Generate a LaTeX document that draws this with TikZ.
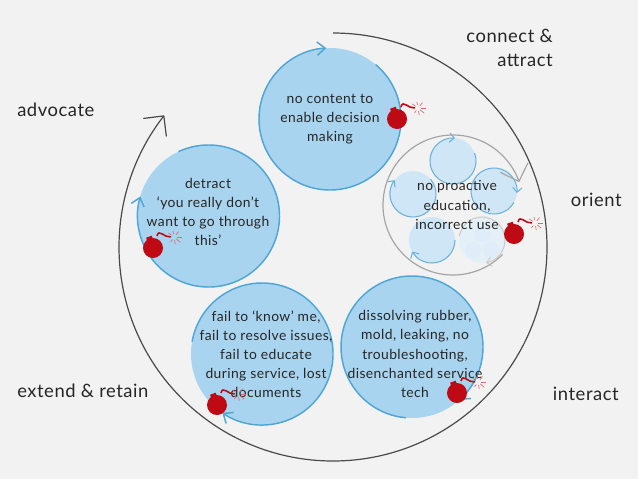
\documentclass[tikz,border=0pt]{standalone}
\usepackage{fontspec}
\usetikzlibrary{arrows.meta}
\setmainfont[LetterSpace=3]{Lato}
\definecolor{slidegrey}{HTML}{F2F2F2}
\definecolor{loopfill}{HTML}{A9D4EF}
\definecolor{loopline}{HTML}{4FA6D6}
\definecolor{subfill}{HTML}{CFE6F6}
\definecolor{ghostfill}{HTML}{E4F0F8}
\definecolor{bombred}{HTML}{BE0A14}
\definecolor{ringgrey}{HTML}{A6A6A6}
\definecolor{bigring}{HTML}{4A4A4A}
\tikzset{loop/.style={circle, fill=loopfill, inner sep=0pt, outer sep=0pt, minimum size=106.5pt}}
\tikzset{subloop/.style={circle, fill=subfill, inner sep=0pt, outer sep=0pt, minimum size=34.5pt}}
\tikzset{looptext/.style={align=center, font=\fontsize{10.4pt}{14.3pt}\selectfont, text=black!85}}
\tikzset{stage/.style={inner sep=0pt, font=\fontsize{13.8pt}{17.5pt}\selectfont, text=black!85}}
\tikzset{loopedge/.style={line width=1.1pt, color=loopline, -{Straight Barb[length=6pt,width=10pt]}}}
\tikzset{subedge/.style={line width=0.8pt, color=loopline!85!white, -{Straight Barb[length=3.5pt,width=7pt]}}}
\tikzset{ringedge/.style={line width=0.9pt, -{Straight Barb[length=11pt,width=22pt]}}}
\tikzset{bomb/.pic={
    \fill[bombred] (0,0) circle (10);
    \fill[bombred, rotate=20] (-3,-12) rectangle (3,-7);
    \draw[bombred, line width=1.2pt] (4,-12) .. controls (6,-20) and (11,-10) .. (18,-11);
    \foreach \a/\l in {0/5,40/5,80/4,125/3,170/1,215/4,260/3,310/4}
        \draw[bombred!60!white, line width=0.5pt] (21,-11) ++(\a:3) -- ++(\a:\l);
}}
\begin{document}
\begin{tikzpicture}[x=0.75pt, y=-0.75pt]
    \useasboundingbox[fill=slidegrey] (0,0) rectangle (638,479);

    \node[loop] (content) at (330,119) {};
    \node[loop] (detract) at (208.5,216) {};
    \node[loop] (fail) at (262,354) {};
    \node[loop] (dissolve) at (412,347) {};

    \draw[loopedge] (content.50) arc[start angle=-50, end angle=267, radius=71];
    \draw[loopedge] (detract.115) arc[start angle=-115, end angle=196, radius=71];
    \draw[loopedge] (fail.170) arc[start angle=-170, end angle=124, radius=71];
    \draw[loopedge] (dissolve.265) arc[start angle=95, end angle=408, radius=71];

    % orient, with its own small loops
    \node[subloop] (subtop) at (453,161) {};
    \node[subloop] (subright) at (494,191) {};
    \node[subloop] (subleft) at (413,194) {};
    \node[subloop] (subbottom) at (432,240) {};
    \node[subloop, fill=ghostfill] (subghost) at (482,240) {};
    \fill[subfill!25!ghostfill] (473,250) circle (8) (491,250) circle (8) (482,234) circle (8);

    \draw[subedge] (subtop.20) arc[start angle=-20, end angle=275, radius=23];
    \draw[subedge] (subright.-30) arc[start angle=30, end angle=365, radius=23];
    \draw[subedge] (subleft.40) arc[start angle=-40, end angle=217, radius=23];
    \draw[subedge] (subbottom.0) arc[start angle=0, end angle=150, radius=23];
    \draw[subedge, color=black!20] (subghost.170) arc[start angle=-170, end angle=80, radius=23];

    \node[circle, inner sep=0pt, outer sep=0pt, minimum size=105pt] (orient) at (453,205) {};
    \draw[ringedge, color=ringgrey] (orient.-45) arc[start angle=45, end angle=341, radius=70];

    \coordinate (ringstart) at (333,33);
    \draw[ringedge, color=bigring] (ringstart) arc[start angle=-90, end angle=218, radius=214];

    \node[looptext] (contenttext) at (330,119) {no content to\\enable decision\\making};
    \node[looptext] (detracttext) at (208,212) {detract\\‘you really don’t\\want to go through\\this’};
    \node[looptext] (failtext) at (266,354) {fail to ‘know’ me,\\fail to resolve issues,\\fail to educate\\during service, lost\\documents};
    \node[looptext] (dissolvetext) at (415,354) {dissolving rubber,\\mold, leaking, no\\troubleshooting,\\disenchanted service\\tech};
    \node[looptext] (orienttext) at (457,205) {no proactive\\education,\\incorrect use};

    \pic at (397,119) {bomb};
    \pic at (153,248) {bomb};
    \pic at (217,405) {bomb};
    \pic at (457,393) {bomb};
    \pic at (514,234) {bomb};

    \node[stage, align=right, anchor=east] (connect) at (553,48) {connect \&\\attract};
    \node[stage, anchor=west] (advocate) at (17,110) {advocate};
    \node[stage, anchor=east] (orientlabel) at (622,200) {orient};
    \node[stage, anchor=east] (interact) at (619,394) {interact};
    \node[stage, anchor=west] (extend) at (17,391) {extend \& retain};
\end{tikzpicture}
\end{document}
